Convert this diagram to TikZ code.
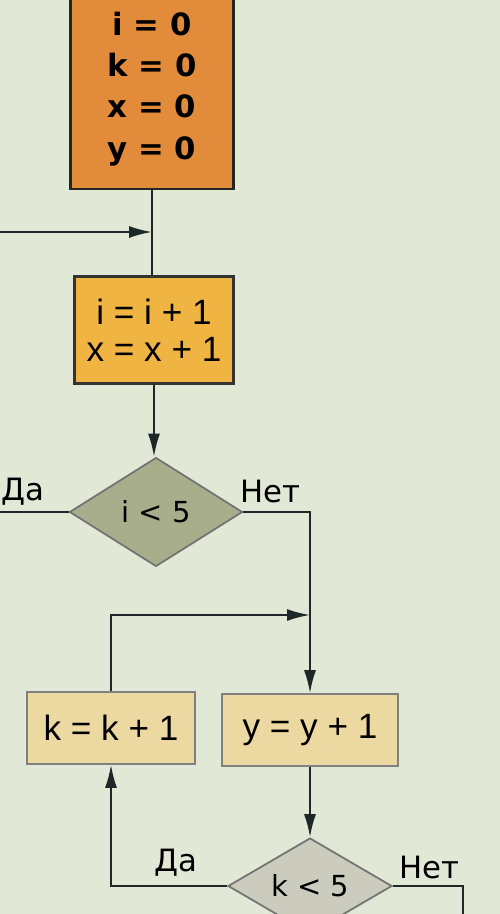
\documentclass[tikz,border=0pt]{standalone}
\usepackage{fontspec}
\setmainfont{Liberation Sans}
\newfontfamily\dejavu{DejaVu Sans}
\usetikzlibrary{shapes.geometric, arrows.meta}
\definecolor{bgcol}{HTML}{E2E8D6}
\definecolor{initfill}{HTML}{E28B3A}
\definecolor{incfill}{HTML}{F0B443}
\definecolor{condfill}{HTML}{A8AD8C}
\definecolor{opfill}{HTML}{ECD9A2}
\definecolor{condfillb}{HTML}{CBCCBD}
\definecolor{linecol}{HTML}{1E2828}

\begin{document}
\begin{tikzpicture}[x=0.02cm, y=-0.02cm, >={Latex[length=4.6mm, width=2.4mm]},
  wire/.style={line width=1.1pt, draw=linecol},
  initbox/.style={draw=black!85, line width=1.6pt, fill=initfill, minimum width=3.26cm, minimum height=4cm, align=center, font=\dejavu\bfseries\fontsize{17.5}{23.4}\selectfont},
  incbox/.style={draw=black!80, line width=1.2pt, fill=incfill, minimum width=3.18cm, minimum height=2.14cm, align=center, font=\fontsize{20}{21}\selectfont},
  opbox/.style={draw=black!50, line width=1pt, fill=opfill, minimum height=1.44cm, font=\fontsize{20}{24}\selectfont},
  cond/.style={diamond, aspect=1.6, draw=black!55, line width=1pt, inner sep=0pt, font=\dejavu\fontsize{16.5}{20}\selectfont},
  lbl/.style={font=\dejavu\fontsize{17.5}{20}\selectfont, inner sep=0pt}]
\useasboundingbox (0,0) rectangle (500,914);
\fill[bgcol] (0,0) rectangle (500,914);
\clip (0,0) rectangle (500,914);

\node[initbox] (init) at (152,89) {i = 0\\k = 0\\x = 0\\y = 0};
\node[incbox] (inc) at (154,330) {i = i + 1\\x = x + 1};
\node[cond, fill=condfill, minimum width=3.46cm, minimum height=2.18cm] (c1) at (156,512) {i < 5};
\node[opbox, minimum width=3.36cm] (kinc) at (111,728) {k = k + 1};
\node[opbox, minimum width=3.52cm] (yinc) at (310,730) {y = y + 1};
\node[cond, fill=condfillb, minimum width=3.28cm, minimum height=1.92cm] (c2) at (310,886) {k < 5};

\node[lbl] (yes1) at (23,492) {Да};
\node[lbl] (no1) at (270,492) {Нет};
\node[lbl] (yes2) at (176,863) {Да};
\node[lbl] (no2) at (429,867) {Нет};

\coordinate (back) at (0,232);
\coordinate (out1) at (0,512);
\coordinate (merge) at (310,615);
\coordinate (out2) at (463,930);

\draw[wire] (init.south) -- (init.south |- inc.north);
\draw[wire,->] (back) -- (back -| init.south);
\draw[wire,->] (inc.south) -- (inc.south |- c1.north);
\draw[wire] (c1.west) -- (out1);
\draw[wire,->] (c1.east) -| (yinc.north);
\draw[wire,->] (kinc.north) |- (merge);
\draw[wire,->] (yinc) -- (c2);
\draw[wire,->] (c2.west) -| (kinc.south);
\draw[wire] (c2.east) -| (out2);
\end{tikzpicture}
\end{document}
